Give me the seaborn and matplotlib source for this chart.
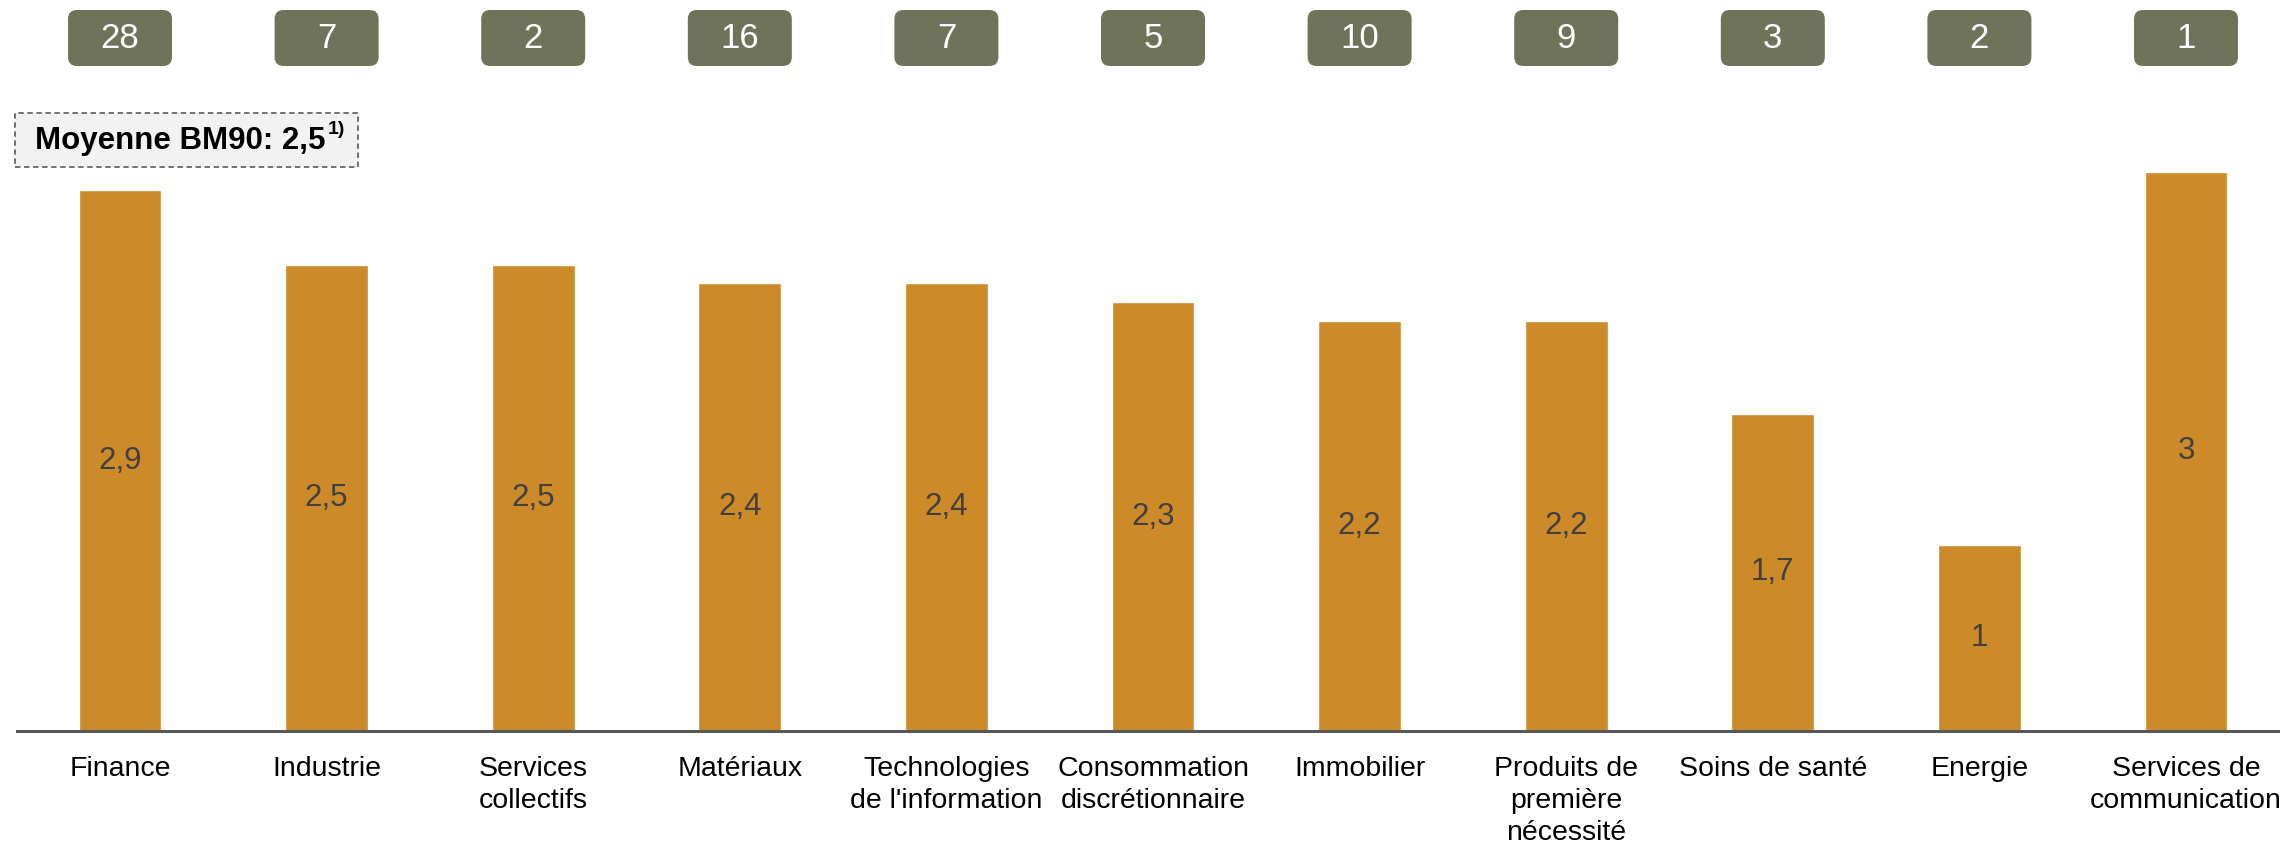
import matplotlib
matplotlib.use("Agg")
import matplotlib.pyplot as plt
import seaborn as sns
import pandas as pd
from matplotlib import font_manager
from matplotlib.patches import FancyBboxPatch
from matplotlib.transforms import IdentityTransform

# ---- data ----
categories = ["Finance", "Industrie", "Services\ncollectifs", "Matériaux",
              "Technologies\nde l'information", "Consommation\ndiscrétionnaire",
              "Immobilier", "Produits de\npremière\nnécessité", "Soins de santé",
              "Energie", "Services de\ncommunication"]
values = [2.9, 2.5, 2.5, 2.4, 2.4, 2.3, 2.2, 2.2, 1.7, 1.0, 3.0]
counts = [28, 7, 2, 16, 7, 5, 10, 9, 3, 2, 1]
average_label = "Moyenne BM90: 2,5"
average_note = "1)"

sns.set_theme(style="white")


def pick(fam, fallback):
    try:
        font_manager.findfont(font_manager.FontProperties(family=fam), fallback_to_default=False)
        return fam
    except Exception:
        return fallback


NARROW = pick("Liberation Sans Narrow", "Liberation Sans")
SANS = pick("Liberation Sans", "DejaVu Sans")
plt.rcParams['font.family'] = [SANS, 'DejaVu Sans']

BAR = "#cc8a29"
BADGE = "#6f7359"

W, H = 2280, 843
fig = plt.figure(figsize=(W / 100, H / 100), dpi=100)
ax = fig.add_axes([17 / W, 112 / H, (W - 17) / W, 651 / H])

df = pd.DataFrame({"cat": categories, "val": values})
sns.barplot(data=df, x="cat", y="val", color=BAR, saturation=1, width=0.4, ax=ax)

ax.set_xlim(-0.4986, 10.455)
ax.set_ylim(0, 651 / 186.5)
ax.set_xlabel("")
ax.set_ylabel("")
ax.set_yticks([])
for s in ["top", "right", "left"]:
    ax.spines[s].set_visible(False)
ax.spines["bottom"].set_color("#595959")
ax.spines["bottom"].set_linewidth(2.2)
ax.tick_params(axis="x", length=0, pad=18)
ax.set_xticks(range(len(categories)))
ax.set_xticklabels(categories, fontfamily=[NARROW, 'DejaVu Sans'], fontsize=20.5,
                   color="black", linespacing=1.3, va="top")

# value labels
for i, v in enumerate(values):
    txt = f"{v:g}".replace(".", ",")
    ax.text(i, v / 2, txt, ha="center", va="center", fontsize=22.5, color="#404040")

fig.canvas.draw()

# count badges
bw, bh = 104, 56
for i, c in enumerate(counts):
    xd, _ = ax.transData.transform((i, 0))
    patch = FancyBboxPatch((xd - bw / 2, H - 66), bw, bh,
                           boxstyle="round,pad=0,rounding_size=9",
                           facecolor=BADGE, edgecolor="none",
                           transform=IdentityTransform())
    fig.patches.append(patch)
    fig.text(xd / W, (H - 38) / H, str(c), ha="center", va="center",
             fontsize=25, color="white")

# average box
box = FancyBboxPatch((15, H - 167), 343, 54, boxstyle="square,pad=0",
                     facecolor="#f2f2f2", edgecolor="#666666", linewidth=1.3,
                     linestyle=(0, (3, 2)), transform=IdentityTransform())
fig.patches.append(box)
t = fig.text(35 / W, (H - 141) / H, average_label, ha="left", va="center",
             fontsize=22.5, fontweight="bold", color="black",
             fontfamily=[NARROW, 'DejaVu Sans'])
fig.canvas.draw()
bb = t.get_window_extent()
fig.text((bb.x1 + 2) / W, (H - 130) / H, average_note, ha="left", va="center",
         fontsize=14, fontweight="bold", color="black",
         fontfamily=[NARROW, 'DejaVu Sans'])

fig.savefig("out.png", dpi=100)
